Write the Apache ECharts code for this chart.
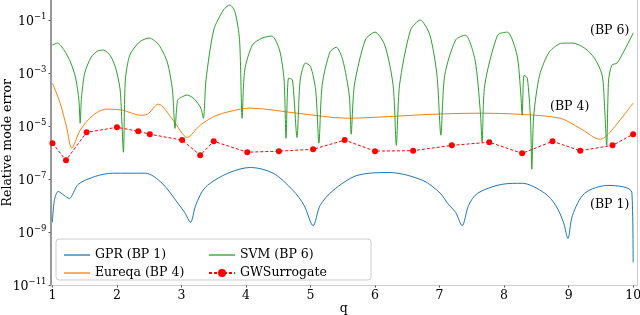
<!DOCTYPE html>
<html>
<head>
<meta charset="utf-8">
<script src="https://cdn.jsdelivr.net/npm/echarts@6/dist/echarts.min.js"></script>
<style>html,body{margin:0;padding:0;background:#fff}#c{width:640px;height:315px}</style>
</head>
<body>
<div id="c"></div>
<script>
const xTicks = [1,2,3,4,5,6,7,8,9,10];
const yTicks = [1e-11,1e-9,1e-7,1e-5,1e-3,1e-1];

const gprQ = [1.00,1.03,1.09,1.18,1.26,1.40,1.67,1.93,2.44,2.70,2.95,3.05,3.14,3.22,3.37,3.72,4.07,4.42,4.73,4.90,5.04,5.15,5.35,5.72,6.23,6.74,7.01,7.13,7.25,7.35,7.45,7.59,7.97,8.28,8.63,8.80,8.92,8.99,9.06,9.25,9.61,9.98,10.00];
const gprV = [2.4e-9,1.6e-8,3.5e-8,2.5e-8,1.9e-8,6.5e-8,1.3e-7,1.7e-7,1.7e-7,7.1e-8,1.2e-8,5.6e-9,2.4e-9,1.05e-8,5.0e-8,1.7e-7,2.8e-7,1.7e-7,3.8e-8,1.05e-8,1.8e-9,1.05e-8,3.8e-8,1.4e-7,1.8e-7,9.1e-8,3.0e-8,1.2e-8,5.6e-9,1.8e-9,1.05e-8,3.0e-8,6.5e-8,7.1e-8,3.0e-8,1.05e-8,2.4e-9,5.9e-10,4.4e-9,3.0e-8,5.9e-8,3.2e-8,7.4e-11];

const eurQ = [1.00,1.12,1.22,1.30,1.43,1.63,1.84,2.09,2.36,2.47,2.64,2.87,3.09,3.29,3.55,3.91,4.06,4.79,5.57,6.34,6.85,7.63,8.25,8.87,9.18,9.49,9.64,10.00];
const eurV = [4.2e-4,7.4e-5,9.1e-6,1.5e-6,7.1e-6,2.6e-5,4.4e-5,4.0e-5,2.6e-5,2.8e-5,6.8e-5,1.7e-5,3.8e-6,1.1e-5,2.6e-5,4.4e-5,4.8e-5,3.1e-5,2.0e-5,2.4e-5,2.8e-5,3.1e-5,2.8e-5,2.0e-5,8.3e-6,3.2e-6,5.9e-6,7.4e-5];

const svmQ = [1.00,1.08,1.18,1.28,1.36,1.41,1.43,1.45,1.50,1.60,1.70,1.79,1.90,1.98,2.05,2.10,2.13,2.20,2.35,2.50,2.65,2.78,2.86,2.90,2.94,3.00,3.09,3.20,3.30,3.34,3.38,3.50,3.65,3.75,3.83,3.90,3.94,3.98,4.10,4.25,4.40,4.52,4.59,4.62,4.66,4.72,4.79,4.84,4.92,5.00,5.08,5.13,5.18,5.30,5.40,5.50,5.60,5.63,5.68,5.85,6.00,6.15,6.28,6.33,6.38,6.55,6.70,6.85,6.96,7.02,7.08,7.25,7.40,7.55,7.63,7.66,7.70,7.90,8.05,8.20,8.26,8.28,8.31,8.36,8.41,8.43,8.46,8.55,8.70,8.90,9.07,9.25,9.40,9.52,9.56,9.59,9.62,9.67,9.75,9.85,10.00];
const svmV = [1.15e-2,1.35e-2,7.4e-3,2.6e-3,6.5e-4,9.5e-5,1.3e-5,1.15e-4,1.0e-3,4.0e-3,6.8e-3,7.4e-3,4.4e-3,1.55e-3,2.3e-4,1.05e-6,5.5e-4,4.8e-3,1.5e-2,2.1e-2,1.15e-2,2.6e-3,2.3e-4,8.3e-6,9.5e-5,1.25e-4,1.5e-4,1.05e-4,4.8e-5,2.0e-5,5.5e-4,4.2e-2,0.24,0.37,0.2,1.8e-2,2.0e-5,1.3e-3,1.15e-2,2.1e-2,2.5e-2,7.4e-3,5.5e-4,3.5e-6,6.5e-4,5.5e-4,3.8e-6,5.5e-4,2.4e-3,1.8e-3,2.3e-4,2.3e-6,3.5e-4,6.2e-3,9.5e-3,3.1e-3,1.5e-4,5.0e-6,3.5e-4,1.8e-2,3.5e-2,1.15e-2,3.5e-4,1.9e-6,3.5e-4,4.2e-2,0.1,2.7e-2,8.3e-4,4.6e-6,8.3e-4,1.8e-2,2.7e-2,3.1e-3,4.0e-5,2.5e-6,3.5e-4,2.7e-2,3.5e-2,4.8e-3,1.5e-4,2.6e-5,8.3e-4,6.5e-4,1.7e-5,2.4e-7,2.6e-5,8.3e-4,6.2e-3,1.35e-2,1.35e-2,8.7e-3,3.7e-3,8.3e-4,4.0e-5,1.9e-6,5.5e-4,2.0e-3,2.4e-3,6.2e-3,3.2e-2];

const gwsQ = [1.00,1.21,1.53,2.00,2.33,2.51,3.01,3.29,3.50,4.02,4.51,5.04,5.53,6.00,6.59,7.19,7.77,8.28,8.75,9.18,9.68,10.00];
const gwsV = [2.3e-6,5.2e-7,5.9e-6,9.1e-6,6.5e-6,5.0e-6,3.0e-6,8.1e-7,2.7e-6,1.05e-6,1.15e-6,1.35e-6,3.0e-6,1.15e-6,1.2e-6,1.9e-6,2.5e-6,9.5e-7,2.7e-6,1.2e-6,1.9e-6,5.0e-6];

const names = ['GPR (BP 1)','Eureqa (BP 4)','SVM (BP 6)','GWSurrogate'];
const annotations = ['(BP 6)','(BP 4)','(BP 1)'];

const zip = (a,b) => a.map((v,i)=>[v,b[i]]);
const FONT = '"DejaVu Serif", serif';
const LINE_ICON = 'path://M0,0L26,0L26,1.3L0,1.3Z';

const chart = echarts.init(document.getElementById('c'), null, {renderer:'canvas'});
const supFmt = v => {
  const e = Math.round(Math.log10(v));
  return '{b|10}{s|\u2212' + Math.abs(e) + '}';
};
const legendText = {fontFamily:FONT, fontSize:12.5, color:'#000', lineHeight:14};
chart.setOption({
  animation:false,
  backgroundColor:'#fff',
  grid:{left:50.5, right:3, top:0, bottom:29.5, outerBoundsMode:'none', containLabel:false},
  xAxis:{
    type:'value', min:0.97, max:10.06,
    name:'q', nameLocation:'middle', nameGap:17, nameMoveOverlap:false,
    nameTextStyle:{fontFamily:FONT, fontSize:12.5, color:'#000'},
    axisLine:{show:true, lineStyle:{color:'#cccccc', width:1}},
    axisTick:{show:true, length:2, customValues:xTicks, lineStyle:{color:'#555'}},
    axisLabel:{customValues:xTicks, fontFamily:FONT, fontSize:12.5, color:'#000', margin:4},
    splitLine:{show:false}
  },
  yAxis:[{
    type:'log', logBase:10, min:1e-11, max:0.569,
    name:'Relative mode error', nameLocation:'middle', nameGap:36, nameMoveOverlap:false,
    nameTextStyle:{fontFamily:FONT, fontSize:12.5, color:'#000'},
    axisLine:{show:true, lineStyle:{color:'#999999', width:2}},
    axisTick:{show:true, length:2, customValues:yTicks, lineStyle:{color:'#555'}},
    axisLabel:{customValues:yTicks, formatter:supFmt, margin:4,
      rich:{
        b:{fontFamily:FONT, fontSize:12.5, color:'#000', verticalAlign:'bottom'},
        s:{fontFamily:FONT, fontSize:8.5, color:'#000', verticalAlign:'bottom', padding:[0,0,7,0]}
      }},
    splitLine:{show:false}
  },{
    type:'log', logBase:10, min:1e-11, max:0.569, position:'right',
    axisLine:{show:true, lineStyle:{color:'#cccccc', width:1}},
    axisTick:{show:false}, axisLabel:{show:false}, splitLine:{show:false}
  }],
  legend:[{
    data:[{name:names[0], icon:LINE_ICON},{name:names[1], icon:LINE_ICON}],
    orient:'vertical', left:59, top:243,
    itemWidth:26, itemHeight:10, itemGap:4, textStyle:legendText
  },{
    data:[{name:names[2], icon:LINE_ICON},{name:names[3]}],
    orient:'vertical', left:203, top:243,
    itemWidth:26, itemHeight:10, itemGap:4, textStyle:legendText
  }],
  graphic:[
    {type:'rect', z:-1, shape:{x:56, y:239, width:315, height:41, r:3}, style:{fill:'rgba(255,255,255,0.8)', stroke:'#cccccc', lineWidth:1}},
    {type:'text', x:590, y:24, style:{text:annotations[0], font:'12.5px "DejaVu Serif"', fill:'#000'}},
    {type:'text', x:550, y:100, style:{text:annotations[1], font:'12.5px "DejaVu Serif"', fill:'#000'}},
    {type:'text', x:590, y:198, style:{text:annotations[2], font:'12.5px "DejaVu Serif"', fill:'#000'}}
  ],
  series:[
    {name:names[0], type:'line', data:zip(gprQ,gprV), smooth:0.3, showSymbol:false, symbol:'none',
     lineStyle:{color:'#1f77b4', width:1}, itemStyle:{color:'#1f77b4'}, z:2},
    {name:names[1], type:'line', data:zip(eurQ,eurV), smooth:0.3, showSymbol:false, symbol:'none',
     lineStyle:{color:'#ff7f0e', width:1}, itemStyle:{color:'#ff7f0e'}, z:3},
    {name:names[2], type:'line', data:zip(svmQ,svmV), smooth:0.25, showSymbol:false, symbol:'none',
     lineStyle:{color:'#2ca02c', width:1}, itemStyle:{color:'#2ca02c'}, z:4},
    {name:names[3], type:'line', data:zip(gwsQ,gwsV), symbol:'circle', symbolSize:6,
     lineStyle:{color:'#ff0000', width:1, type:[3,2]}, itemStyle:{color:'#ff0000'}, z:5}
  ]
});
</script>
</body>
</html>
